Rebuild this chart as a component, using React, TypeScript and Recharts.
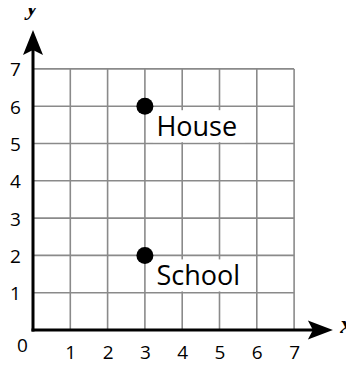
import React from "react";
import {
  ScatterChart,
  Scatter,
  XAxis,
  YAxis,
  ReferenceLine,
  ReferenceDot,
  LabelList,
} from "recharts";

const xTicks = [0, 1, 2, 3, 4, 5, 6, 7];
const yTicks = [1, 2, 3, 4, 5, 6, 7];
const gridValues = [1, 2, 3, 4, 5, 6, 7];
const places = [
  { x: 3, y: 6, name: "House" },
  { x: 3, y: 2, name: "School" },
];
const axisMax = 7.5;
const arrowAt = 8.04;

const TICK_FONT = "'Open Sans', 'Noto Sans', sans-serif";
const AXIS_FONT = "'Liberation Serif', 'DejaVu Serif', serif";
const GRID = "#8a8a8a";

const XTick = (props: any) => {
  const { x, y, payload } = props;
  if (payload.value === 0) {
    return (
      <text x={x - 10.5} y={y + 22} textAnchor="middle" fontSize={19} fontFamily={TICK_FONT} fill="#000">
        0
      </text>
    );
  }
  return (
    <text x={x + 0.5} y={y + 29} textAnchor="middle" fontSize={19} fontFamily={TICK_FONT} fill="#000">
      {payload.value}
    </text>
  );
};

const YTick = (props: any) => {
  const { x, y, payload } = props;
  return (
    <text x={x - 17.5} y={y + 7.5} textAnchor="middle" fontSize={19} fontFamily={TICK_FONT} fill="#000">
      {payload.value}
    </text>
  );
};

const XArrow = (props: any) => {
  const { cx, cy } = props;
  return (
    <g>
      <polygon
        points={`${cx},${cy} ${cx - 25},${cy - 9.5} ${cx - 20},${cy} ${cx - 25},${cy + 9.5}`}
        fill="#000"
      />
      <text
        x={cx + 13.5}
        y={cy + 3}
        textAnchor="middle"
        fontSize={25}
        fontWeight="bold"
        fontStyle="italic"
        fontFamily={AXIS_FONT}
        fill="#000"
      >
        x
      </text>
    </g>
  );
};

const YArrow = (props: any) => {
  const { cx, cy } = props;
  return (
    <g>
      <polygon
        points={`${cx},${cy} ${cx - 10},${cy + 25} ${cx},${cy + 20} ${cx + 10},${cy + 25}`}
        fill="#000"
      />
      <text
        x={cx - 1}
        y={cy - 15}
        textAnchor="middle"
        fontSize={24}
        fontWeight="bold"
        fontStyle="italic"
        fontFamily={AXIS_FONT}
        fill="#000"
      >
        y
      </text>
    </g>
  );
};

const PlaceLabel = (props: any) => {
  const { x, y, width, height, value } = props;
  const cx = x + width / 2;
  const cy = y + height / 2;
  return (
    <g>
      <rect x={cx + 8} y={cy + 4} width={92} height={32} fill="#fff" />
      <text
        x={cx + 11.5}
        y={cy + 29.5}
        fontSize={27}
        fontFamily={TICK_FONT}
        fill="#000"
      >
        {value}
      </text>
    </g>
  );
};

const Dot = (props: any) => {
  const { cx, cy } = props;
  return <circle cx={cx} cy={cy} r={8.5} fill="#000" />;
};

export default function App() {
  return (
    <div style={{ margin: "-8px 0 0 -8px", width: 354, height: 365 }}>
      <ScatterChart
        width={354}
        height={365}
        margin={{ top: 31.6, right: 22.6, left: 0, bottom: 0 }}
      >
        <XAxis
          type="number"
          dataKey="x"
          domain={[0, 8]}
          ticks={xTicks}
          interval={0}
          height={35}
          axisLine={false}
          tickLine={false}
          tickSize={0}
          tickMargin={0}
          tick={<XTick />}
          allowDataOverflow
        />
        <YAxis
          type="number"
          dataKey="y"
          domain={[0, 8]}
          ticks={yTicks}
          interval={0}
          width={33}
          axisLine={false}
          tickLine={false}
          tickSize={0}
          tickMargin={0}
          tick={<YTick />}
          allowDataOverflow
        />
        {gridValues.map((v) => (
          <ReferenceLine
            key={`v${v}`}
            segment={[
              { x: v, y: 0 },
              { x: v, y: 7 },
            ]}
            stroke={GRID}
            strokeWidth={1.6}
          />
        ))}
        {gridValues.map((v) => (
          <ReferenceLine
            key={`h${v}`}
            segment={[
              { x: 0, y: v },
              { x: 7, y: v },
            ]}
            stroke={GRID}
            strokeWidth={1.6}
          />
        ))}
        <ReferenceLine
          segment={[
            { x: 0, y: 0 },
            { x: axisMax, y: 0 },
          ]}
          stroke="#000"
          strokeWidth={3}
          strokeLinecap="square"
        />
        <ReferenceLine
          segment={[
            { x: 0, y: 0 },
            { x: 0, y: axisMax },
          ]}
          stroke="#000"
          strokeWidth={3}
          strokeLinecap="square"
        />
        <ReferenceDot x={arrowAt} y={0} ifOverflow="visible" shape={<XArrow />} />
        <ReferenceDot x={0} y={arrowAt} ifOverflow="visible" shape={<YArrow />} />
        <Scatter data={places} isAnimationActive={false} shape={<Dot />}>
          <LabelList dataKey="name" content={<PlaceLabel />} />
        </Scatter>
      </ScatterChart>
    </div>
  );
}
